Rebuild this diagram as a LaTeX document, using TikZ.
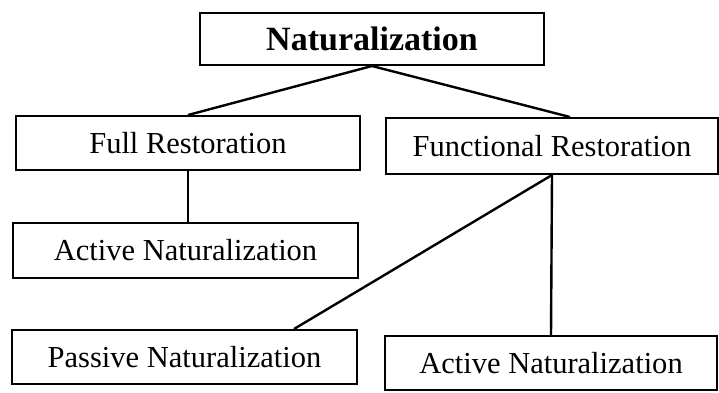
\documentclass[tikz,border=0pt]{standalone}
\usepackage{fontspec}
\setmainfont{Liberation Serif}
\begin{document}
\begin{tikzpicture}[x=1pt,y=-1pt,
    box/.style={draw, line width=2pt, inner sep=0pt, font=\fontsize{30.5}{36}\selectfont},
    link/.style={line width=2.4pt}]
                \useasboundingbox (0,0) rectangle (719,392);
                \node[box, minimum width=344pt, minimum height=52pt, font=\fontsize{34}{40}\selectfont\bfseries] (nat) at (372,39) {Naturalization};
                \node[box, minimum width=344pt, minimum height=54pt] (full) at (188,143) {Full Restoration};
                \node[box, minimum width=332pt, minimum height=56pt] (func) at (552,146) {Functional Restoration};
                \node[box, minimum width=345pt, minimum height=55pt] (actl) at (185.5,250.5) {Active Naturalization};
                \node[box, minimum width=345pt, minimum height=54pt] (passive) at (184.5,357) {Passive Naturalization};
                \node[box, minimum width=332pt, minimum height=54pt] (actr) at (551,363) {Active Naturalization};
                \draw[link] (nat.south) -- (full.north);
                \draw[link] (nat.south) -- ([xshift=18pt]func.north);
                \draw[link] (full.south) -- (full.south |- actl.north);
                \draw[link] (func.south) -- ([xshift=-64pt]passive.north east);
                \draw[link] (func.south) -- (actr.north);
            \end{tikzpicture}
\end{document}
